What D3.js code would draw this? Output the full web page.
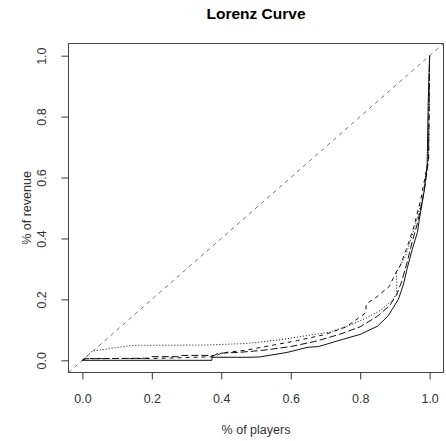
<!DOCTYPE html>
<meta charset="utf-8">
<style>
    body { margin: 0; background: #fff; }
    svg { display: block; }
    text { font-family: "Liberation Sans", Arial, sans-serif; }
</style>

<script src="https://d3js.org/d3.v7.min.js"></script>

<svg id="chart" width="446" height="441"></svg>

<script>

// Data

var xTicks = [0, 0.2, 0.4, 0.6, 0.8, 1.0];
var yTicks = [0, 0.2, 0.4, 0.6, 0.8, 1.0];

// solid curve
var curveA = [[0,0],[0.373,0],[0.373,0.010],[0.48,0.010],[0.51,0.011],[0.59,0.026],[0.65,0.043],
    [0.68,0.045],[0.75,0.069],[0.80,0.085],[0.85,0.112],[0.88,0.145],[0.91,0.20],[0.925,0.25],
    [0.935,0.30],[0.95,0.365],[0.965,0.42],[0.97,0.46],[0.985,0.56],[0.993,0.645],[0.996,0.85],[1,1]];

// long-dash curve
var curveB = [[0,0],[0.01,0.005],[0.19,0.007],[0.20,0.012],[0.275,0.012],[0.28,0.016],[0.38,0.016],
    [0.39,0.023],[0.45,0.026],[0.52,0.033],[0.60,0.045],[0.67,0.062],[0.74,0.085],[0.80,0.11],
    [0.85,0.145],[0.885,0.18],[0.905,0.215],[0.92,0.26],[0.935,0.32],[0.95,0.39],[0.965,0.45],
    [0.98,0.53],[0.99,0.60],[0.997,0.66],[1,1]];

// dashed curve
var curveC = [[0,0],[0.005,0.006],[0.20,0.006],[0.33,0.010],[0.38,0.012],[0.40,0.024],[0.47,0.033],
    [0.55,0.050],[0.62,0.065],[0.70,0.085],[0.76,0.11],[0.815,0.155],[0.818,0.185],[0.85,0.21],
    [0.884,0.243],[0.904,0.29],[0.915,0.31],[0.935,0.37],[0.955,0.44],[0.975,0.53],[0.99,0.62],
    [0.997,0.66],[1,1]];

// dotted curve
var curveD = [[0,0],[0.028,0.03],[0.143,0.049],[0.35,0.050],[0.47,0.055],[0.56,0.066],[0.64,0.08],
    [0.71,0.092],[0.77,0.115],[0.82,0.14],[0.86,0.165],[0.895,0.20],[0.905,0.22],[0.905,0.29],
    [0.915,0.31],[0.93,0.34],[0.95,0.41],[0.97,0.49],[0.985,0.56],[0.993,0.63],[0.997,0.68],
    [0.998,0.92],[1,1]];

var diagonal = [[-0.04,-0.04],[1.04,1.04]];


// Setup

var svg = d3.select('svg#chart');

var box = { left: 68.5, right: 443.5, top: 43.5, bottom: 372.5 };

var x = d3.scaleLinear().domain([-0.04, 1.04]).range([box.left, box.right]);
var y = d3.scaleLinear().domain([-0.04, 1.04]).range([box.bottom, box.top]);

var fmt = d3.format('.1f');

var line = d3.line()
    .x(function(d) { return x(d[0]); })
    .y(function(d) { return y(d[1]); });

svg.append('clipPath').attr('id', 'plotclip')
    .append('rect')
    .attr('x', box.left).attr('y', box.top)
    .attr('width', box.right - box.left).attr('height', box.bottom - box.top);


// Axes (R style: ticks outside, labels parallel to the axis)

var xAxis = svg.append('g')
    .attr('transform', 'translate(0,' + box.bottom + ')')
    .call(d3.axisBottom(x).tickValues(xTicks).tickSize(7).tickPadding(15).tickFormat(fmt));

var yAxis = svg.append('g')
    .attr('transform', 'translate(' + box.left + ',0)')
    .call(d3.axisLeft(y).tickValues(yTicks).tickSize(7).tickFormat(fmt));

svg.selectAll('.domain').remove();
svg.selectAll('.tick line').attr('stroke', '#333');
svg.selectAll('.tick text')
    .attr('fill', '#333')
    .style('font-size', '12.5px')
    .style('font-family', '"Liberation Sans", Arial, sans-serif');

yAxis.selectAll('.tick text')
    .attr('x', null).attr('dy', null)
    .attr('text-anchor', 'middle')
    .attr('transform', 'translate(-23,0) rotate(-90)');


// Plot box

svg.append('rect')
    .attr('x', box.left).attr('y', box.top)
    .attr('width', box.right - box.left).attr('height', box.bottom - box.top)
    .attr('fill', 'none')
    .attr('stroke', '#444')
    .attr('stroke-width', 1);


// Lines

var plot = svg.append('g').attr('clip-path', 'url(#plotclip)');

plot.append('path')
    .attr('d', line(diagonal))
    .attr('fill', 'none')
    .attr('stroke', '#777')
    .attr('stroke-dasharray', '4,4');

var curves = [
    { data: curveA, dash: null },
    { data: curveB, dash: '7,3' },
    { data: curveC, dash: '4,4' },
    { data: curveD, dash: '1,2' }
];

plot.selectAll('path.curve')
    .data(curves)
    .enter()
    .append('path')
    .attr('class', 'curve')
    .attr('d', function(d) { return line(d.data); })
    .attr('fill', 'none')
    .attr('stroke', '#111')
    .attr('stroke-width', 1)
    .attr('stroke-dasharray', function(d) { return d.dash; });


// Titles

var midX = (box.left + box.right) / 2;
var midY = (box.top + box.bottom) / 2;

svg.append('text')
    .attr('x', midX).attr('y', 19)
    .attr('text-anchor', 'middle')
    .style('font-size', '15.5px')
    .style('font-weight', 'bold')
    .text('Lorenz Curve');

svg.append('text')
    .attr('x', midX).attr('y', 434)
    .attr('text-anchor', 'middle')
    .attr('fill', '#333')
    .style('font-size', '12.5px')
    .text('% of players');

svg.append('text')
    .attr('transform', 'translate(31,' + midY + ') rotate(-90)')
    .attr('text-anchor', 'middle')
    .attr('fill', '#333')
    .style('font-size', '12.5px')
    .text('% of revenue');

</script>
